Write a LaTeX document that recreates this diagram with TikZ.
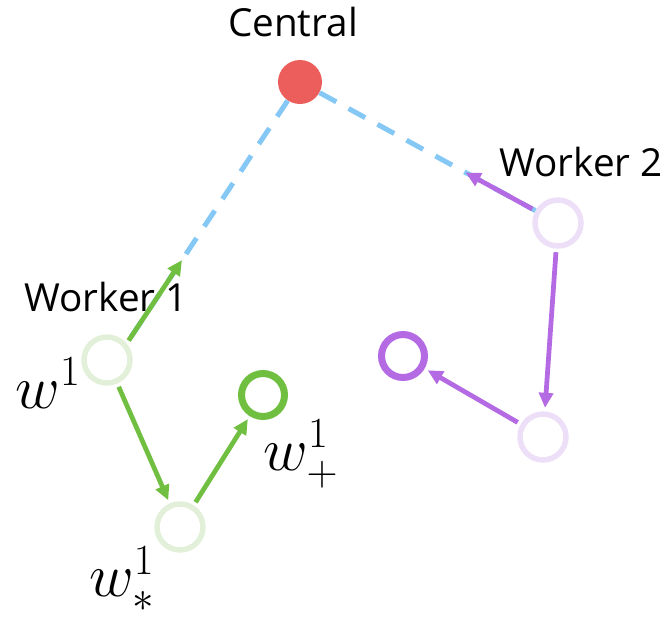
\documentclass[tikz,border=0pt]{standalone}
\usepackage{fix-cm}
\usepackage{amsmath,amssymb}
\usepackage{fontspec}
\setsansfont{Open Sans}
\usetikzlibrary{arrows.meta,calc}

\definecolor{grn}{HTML}{70BF41}
\definecolor{grnlight}{HTML}{E2F0D9}
\definecolor{prp}{HTML}{B36AE2}
\definecolor{prplight}{HTML}{EEDFF8}
\definecolor{centralred}{HTML}{EB5E5B}
\definecolor{linkblue}{HTML}{85C8F5}

\begin{document}
\begin{tikzpicture}[
        x=0.02cm, y=-0.02cm,
        worker/.style={circle, draw, line width=0.11cm, minimum size=0.92cm, inner sep=0pt},
        current/.style={worker, line width=0.14cm, minimum size=0.86cm},
        hub/.style={circle, fill=centralred, minimum size=0.88cm, inner sep=0pt},
        title/.style={font=\sffamily\fontsize{22}{26}\selectfont},
        wlabel/.style={font=\fontsize{35}{40}\selectfont},
        arrow/.style={-{Triangle[length=0.3cm, width=0.28cm]}, line width=0.095cm, shorten <=2pt, shorten >=2pt},
        link/.style={linkblue, line width=0.1cm, dash pattern=on 0.38cm off 0.28cm}
    ]
        \useasboundingbox (0, 0) rectangle (666, 623);

        % central server
        \node[hub] (central) at (300, 82) {};
        \node[title] (centraltxt) at (293, 22) {Central};

        % worker 1
        \node[worker, draw=grnlight] (w1) at (107, 360) {};
        \node[worker, draw=grnlight] (wstar) at (180, 527) {};
        \node[current, draw=grn] (wplus) at (263, 395) {};
        \node[title] (w1txt) at (106, 297) {Worker 1};
        \node[wlabel] (w1lab) at (48, 383) {$w^1$};
        \node[wlabel] (wpluslab) at (301, 454) {$w^1_+$};
        \node[wlabel] (wstarlab) at (122, 579) {$w^1_*$};

        % worker 2
        \node[worker, draw=prplight] (v1) at (558, 223) {};
        \node[worker, draw=prplight] (v2) at (543, 437) {};
        \node[current, draw=prp] (v3) at (403, 356) {};
        \node[title] (v1txt) at (581, 162) {Worker 2};

        % links to central
        \draw[link] (central) -- (w1.40);
        \draw[link] (central) -- (v1);

        \coordinate (up1) at ($(w1.40)!0.33!(central)$);
        \coordinate (up2) at ($(v1)!0.37!(central)$);

        \draw[arrow, grn] (w1.40) -- (up1);
        \draw[arrow, grn] (w1) -- (wstar);
        \draw[arrow, grn] (wstar) -- (wplus);

        \draw[arrow, prp] (v1) -- (up2);
        \draw[arrow, prp] (v1) -- (v2);
        \draw[arrow, prp] (v2) -- (v3);
    \end{tikzpicture}
\end{document}
